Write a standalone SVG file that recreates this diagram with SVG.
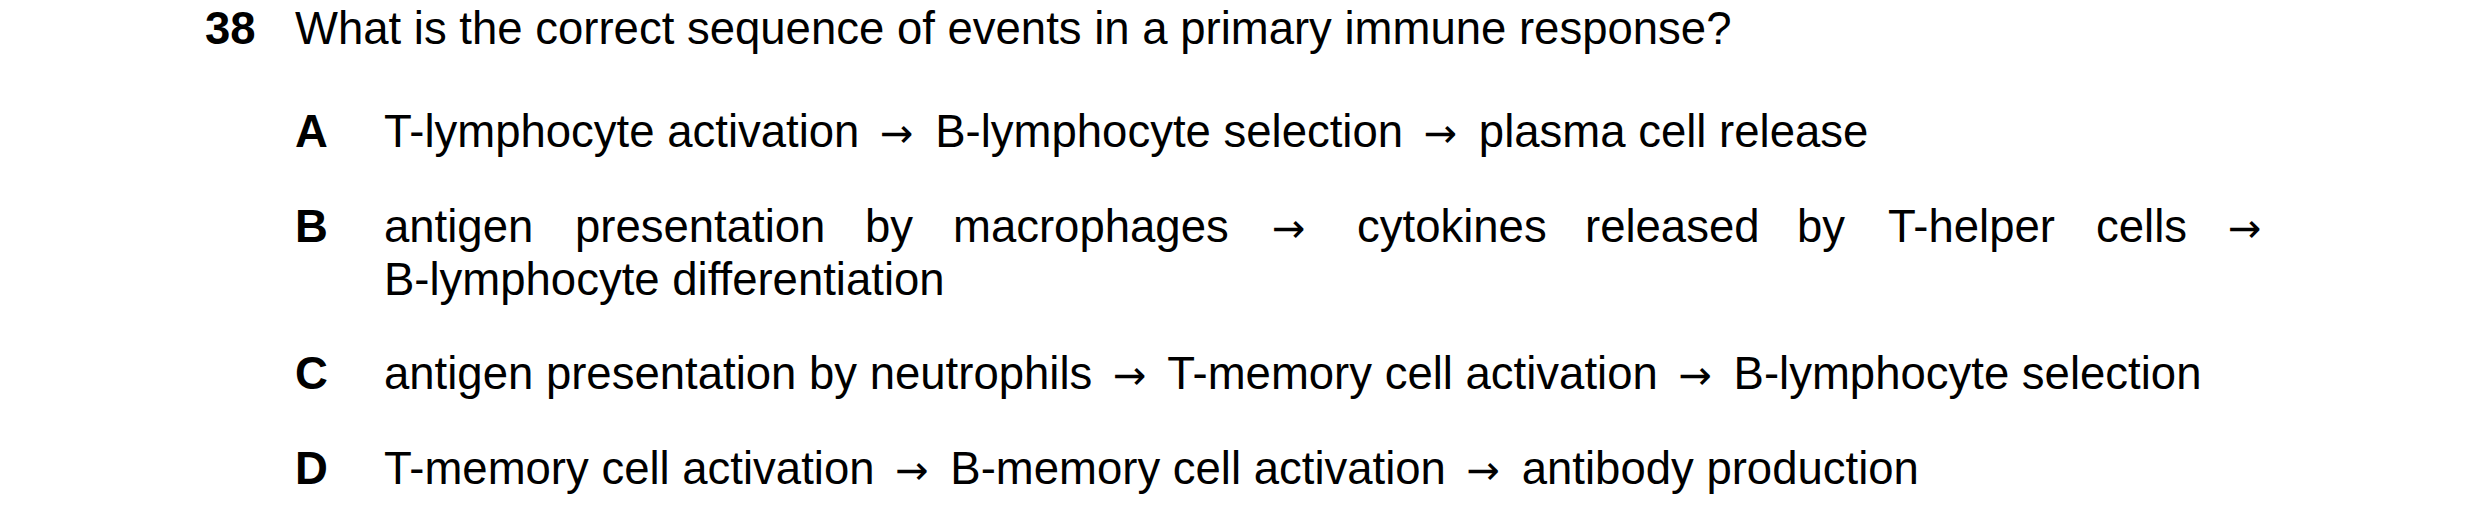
<svg xmlns="http://www.w3.org/2000/svg" width="2480" height="530" viewBox="0 0 2480 530">
<style>
text{font-family:"Liberation Sans",Arial,sans-serif;font-size:45.5px;fill:#000}
.b{font-weight:bold}
.ar{font-family:"DejaVu Sans",sans-serif;font-size:40px}
</style>
<rect width="2480" height="530" fill="#fff"/>
<g id="question">
<text class="b" x="205" y="44">38</text>
<text x="295" y="44">What is the correct sequence of events in a primary immune response?</text>
</g>
<g id="optA">
<text class="b" x="295" y="147">A</text>
<text x="384" y="147">T-lymphocyte activation <tspan class="ar" dx="8">→</tspan><tspan dx="9"> B-lymphocyte selection </tspan><tspan class="ar" dx="8">→</tspan><tspan dx="9"> plasma cell release</tspan></text>
</g>
<g id="optB">
<text class="b" x="295" y="242">B</text>
<text y="242"><tspan x="384">antigen</tspan><tspan x="575">presentation</tspan><tspan x="865">by</tspan><tspan x="953">macrophages</tspan><tspan class="ar" x="1272">→</tspan><tspan x="1357">cytokines</tspan><tspan x="1585">released</tspan><tspan x="1797">by</tspan><tspan x="1888">T-helper</tspan><tspan x="2096">cells</tspan><tspan class="ar" x="2228">→</tspan></text>
<text x="384" y="295">B-lymphocyte differentiation</text>
</g>
<g id="optC">
<text class="b" x="295" y="389">C</text>
<text x="384" y="389">antigen presentation by neutrophils <tspan class="ar" dx="8">→</tspan><tspan dx="9"> T-memory cell activation </tspan><tspan class="ar" dx="8">→</tspan><tspan dx="9"> B-lymphocyte selection</tspan></text>
</g>
<g id="optD">
<text class="b" x="295" y="484">D</text>
<text x="384" y="484">T-memory cell activation <tspan class="ar" dx="8">→</tspan><tspan dx="9"> B-memory cell activation </tspan><tspan class="ar" dx="8">→</tspan><tspan dx="9"> antibody production</tspan></text>
</g>
</svg>
